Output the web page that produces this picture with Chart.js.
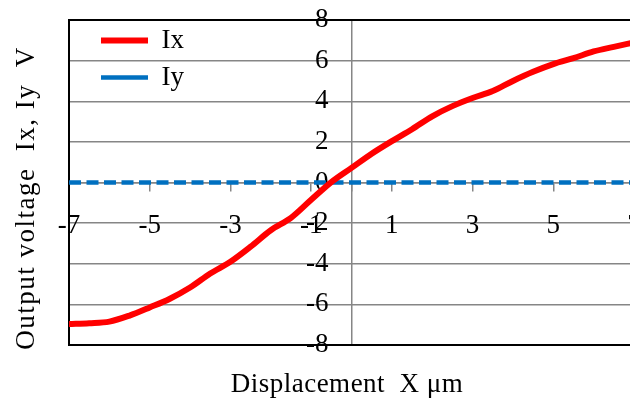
<!DOCTYPE html>
<html><head><meta charset="utf-8">
<script src="https://cdn.jsdelivr.net/npm/chart.js@4.4.1/dist/chart.umd.min.js"></script>
<style>
html,body{margin:0;padding:0;background:#fff;overflow:hidden;width:630px;height:400px;}
#wrap{position:relative;width:640px;height:400px;}
</style></head><body>
<div id="wrap"><canvas id="c"></canvas></div>
<script>
const displacementX = [-7,-6.5,-6,-5.5,-5,-4.5,-4,-3.5,-3,-2.5,-2,-1.5,-1,-0.5,0,0.5,1,1.5,2,2.5,3,3.5,4,4.5,5,5.5,6,6.5,7];
const ixValues = [-6.97,-6.93,-6.85,-6.55,-6.15,-5.72,-5.17,-4.48,-3.9,-3.16,-2.35,-1.74,-0.85,0.02,0.72,1.42,2.04,2.62,3.26,3.76,4.16,4.5,5.0,5.45,5.83,6.12,6.45,6.68,6.9];
const iyValues = [0,0,0,0,0,0,0,0,0,0,0,0,0,0,0,0,0,0,0,0,0,0,0,0,0,0,0,0,0];
const xTickValues = [-7,-5,-3,-1,0,1,3,5,7];
const yTickValues = [-8,-6,-4,-2,0,2,4,6,8];
const seriesNames = ['Ix','Iy'];
const xAxisTitle = 'Displacement  X μm';
const yAxisTitle = 'Output voltage  Ix, Iy  V';

const FONT = "'Liberation Serif','Times New Roman',serif";
Chart.defaults.font.family = FONT;
Chart.defaults.font.size = 27;
Chart.defaults.color = '#000';
const GRID = '#868686';

const toPts = (ys) => displacementX.map((x, i) => ({x: x, y: ys[i]}));
const noPad = (s) => { s.paddingLeft = 0; s.paddingRight = 0; s.paddingTop = 0; s.paddingBottom = 0; };

const framePlugin = {
  id: 'frame',
  afterLayout(chart) {
    const lg = chart.legend;
    if (lg) { lg.left = 91; lg.top = 17; }
  },
  beforeDatasetsDraw(chart) {
    const {ctx, chartArea: a} = chart;
    ctx.save();
    ctx.strokeStyle = '#000';
    ctx.lineWidth = 2;
    ctx.beginPath();
    ctx.moveTo(a.right + 20, a.top);
    ctx.lineTo(a.left, a.top);
    ctx.lineTo(a.left, a.bottom);
    ctx.lineTo(a.right + 20, a.bottom);
    ctx.stroke();
    ctx.restore();
  },
  afterDraw(chart) {
    const ctx = chart.ctx;
    ctx.save();
    ctx.fillStyle = '#000';
    ctx.font = '27px ' + FONT;
    ctx.textAlign = 'center';
    ctx.textBaseline = 'middle';
    ctx.letterSpacing = '0.5px';
    ctx.fillText(xAxisTitle, 347, 385);
    ctx.letterSpacing = '1.5px';
    ctx.translate(27, 198);
    ctx.rotate(-Math.PI / 2);
    ctx.fillText(yAxisTitle, 0, 0);
    ctx.restore();
  }
};

new Chart(document.getElementById('c'), {
  type: 'line',
  data: {
    datasets: [
      {label: seriesNames[0], data: toPts(ixValues), borderColor: '#FF0000', backgroundColor: '#FF0000',
       borderWidth: 6, pointRadius: 0, cubicInterpolationMode: 'monotone', borderCapStyle: 'round', borderJoinStyle: 'round', fill: false},
      {label: seriesNames[1], data: toPts(iyValues), borderColor: '#0070C0', backgroundColor: '#0070C0',
       borderWidth: 4.5, borderDash: [12, 5.5], pointRadius: 0, fill: false}
    ]
  },
  options: {
    responsive: true,
    maintainAspectRatio: false,
    animation: false,
    layout: {padding: {left: 69, top: 20, right: 6, bottom: 55}},
    plugins: {
      tooltip: {enabled: false},
      legend: {
        position: 'chartArea',
        align: 'start',
        labels: {usePointStyle: true, pointStyle: 'line', pointStyleWidth: 47, padding: 10, color: '#000',
                 font: {size: 27, family: FONT}}
      }
    },
    scales: {
      x: {
        type: 'linear', min: -7, max: 7,
        position: {y: 0},
        afterBuildTicks: (s) => { s.ticks = xTickValues.map(v => ({value: v})); },
        afterFit: noPad,
        grid: {drawOnChartArea: true, drawTicks: true, tickLength: 8,
               color: (c) => (c.tick && c.tick.value === 0) ? GRID : 'rgba(0,0,0,0)',
               tickColor: GRID, lineWidth: 1.5},
        border: {display: true, color: GRID, width: 1.5},
        ticks: {autoSkip: false, maxRotation: 0, padding: 19, font: {size: 27, family: FONT}, color: '#000',
                callback: (v) => v === 0 ? '' : String(v)}
      },
      y: {
        type: 'linear', min: -8, max: 8,
        position: {x: -0.57},
        afterBuildTicks: (s) => { s.ticks = yTickValues.map(v => ({value: v})); },
        afterFit: noPad,
        grid: {drawOnChartArea: true, drawTicks: false, color: GRID, lineWidth: 1.5},
        border: {display: false},
        ticks: {padding: 0, font: {size: 27, family: FONT}, color: '#000'}
      }
    }
  },
  plugins: [framePlugin]
});
</script>
</body></html>
